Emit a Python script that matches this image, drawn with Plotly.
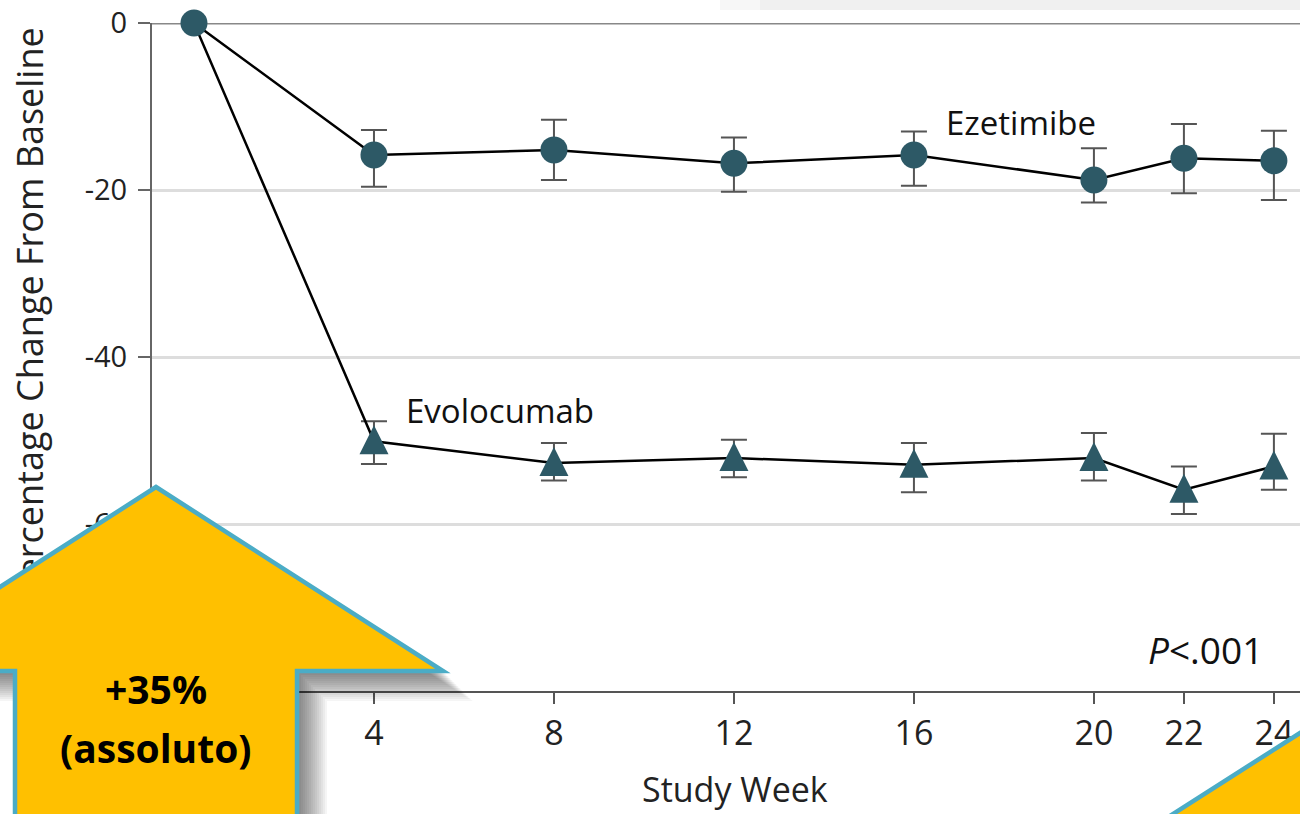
import plotly.graph_objects as go

# ---------------- data ----------------
weeks = [0, 4, 8, 12, 16, 20, 22, 24]
evo_mean = [0, -50.1, -52.7, -52.1, -52.9, -52.1, -55.9, -53.1]
evo_upper = [0, -47.7, -50.3, -49.9, -50.3, -49.1, -53.1, -49.2]
evo_lower = [0, -52.8, -54.8, -54.4, -56.2, -54.8, -58.8, -55.9]
eze_mean = [0, -15.8, -15.2, -16.8, -15.8, -18.8, -16.2, -16.5]
eze_upper = [0, -12.8, -11.6, -13.7, -13.0, -15.0, -12.1, -12.9]
eze_lower = [0, -19.6, -18.8, -20.2, -19.5, -21.5, -20.4, -21.2]
x_ticks = [0, 4, 8, 12, 16, 20, 22, 24]
x_ticktext = ["", "4", "8", "12", "16", "20", "22", "24"]  # week-0 label hidden under arrow
y_ticks = [0, -20, -40, -60]
y_ticktext = ["0", "-20", "-40", "-60"]

# ---------------- geometry (pixels) ----------------
W, H = 1300, 814
PL, PR, PT, PB = 152, 1300, 23, 691  # plot area in pixels
Y_RANGE = [-80, 0]
TRI_LIFT_PX = 16  # triangle glyph apex sits above the data point


def px(x):
    return (x - PL) / (PR - PL)


def py(y):
    return (PB - y) / (PB - PT)


def path(points):
    return "M " + " L ".join(f"{px(a):.5f},{py(b):.5f}" for a, b in points) + " Z"


units_per_px = (Y_RANGE[1] - Y_RANGE[0]) / (PB - PT)
lift = TRI_LIFT_PX * units_per_px
Y2_RANGE = [Y_RANGE[0] - lift, Y_RANGE[1] - lift]

FONT = "Open Sans, Noto Sans, sans-serif"
MARK = "#2d5966"

fig = go.Figure()

# Evolocumab line + error bars
fig.add_trace(go.Scatter(
    x=weeks, y=evo_mean, mode="lines", name="Evolocumab",
    line=dict(color="black", width=2.5),
    error_y=dict(type="data", symmetric=False,
                 array=[u - m for u, m in zip(evo_upper, evo_mean)],
                 arrayminus=[m - l for m, l in zip(evo_mean, evo_lower)],
                 color="#555", thickness=2, width=13),
    cliponaxis=False, showlegend=False, yaxis="y",
))
# Evolocumab triangle markers (overlay axis shifted so the glyph is centred like the original)
fig.add_trace(go.Scatter(
    x=weeks, y=evo_mean, mode="markers", name="Evolocumab",
    marker=dict(symbol="arrow-up", size=29, color=MARK, line=dict(width=0)),
    cliponaxis=False, showlegend=False, yaxis="y2",
))
# Ezetimibe
fig.add_trace(go.Scatter(
    x=weeks, y=eze_mean, mode="lines+markers", name="Ezetimibe",
    line=dict(color="black", width=2.5),
    marker=dict(symbol="circle", size=27, color=MARK),
    error_y=dict(type="data", symmetric=False,
                 array=[u - m for u, m in zip(eze_upper, eze_mean)],
                 arrayminus=[m - l for m, l in zip(eze_mean, eze_lower)],
                 color="#555", thickness=2, width=13),
    cliponaxis=False, showlegend=False, yaxis="y3",
))

shapes = []
# top zero line
shapes.append(dict(type="line", xref="paper", yref="y", x0=0, x1=1, y0=0, y1=0,
                   line=dict(color="#888", width=3), layer="below"))
# faint band at top right
shapes.append(dict(type="rect", xref="paper", yref="paper", x0=px(760), x1=px(1300),
                   y0=py(10), y1=py(0), fillcolor="rgba(0,0,0,0.06)", line=dict(width=0),
                   layer="above"))
shapes.append(dict(type="rect", xref="paper", yref="paper", x0=px(720), x1=px(760),
                   y0=py(10), y1=py(0), fillcolor="rgba(0,0,0,0.03)", line=dict(width=0),
                   layer="above"))

arrow_pts = [(156, 487), (443, 671), (297, 671), (297, 840), (15, 840), (15, 671), (-131, 671)]
# soft shadow
for d in range(2, 31, 2):
    shp = [(a + d, b + d) for a, b in arrow_pts]
    shapes.append(dict(type="path", xref="paper", yref="paper", path=path(shp),
                       fillcolor="rgba(0,0,0,0.04)", line=dict(width=0), layer="above"))
shapes.append(dict(type="path", xref="paper", yref="paper", path=path(arrow_pts),
                   fillcolor="#FFC000", line=dict(color="#4BACC6", width=4.5), layer="above"))
# bottom-right arrow fragment
br_pts = [(1150, 828.7), (1320, 720.2), (1320, 840), (1150, 840)]
shapes.append(dict(type="path", xref="paper", yref="paper", path=path(br_pts),
                   fillcolor="#FFC000", line=dict(color="#4BACC6", width=4.5), layer="above"))

annotations = [
    dict(text="Percentage Change From Baseline", xref="paper", yref="paper",
         x=px(29), y=py(314), textangle=-90, showarrow=False,
         font=dict(family=FONT, size=36, color="#222"), xanchor="center", yanchor="middle"),
    dict(text="Ezetimibe", xref="paper", yref="paper", x=px(1021), y=py(123),
         showarrow=False, font=dict(family=FONT, size=33, color="#111"),
         xanchor="center", yanchor="middle"),
    dict(text="Evolocumab", xref="paper", yref="paper", x=px(500), y=py(410),
         showarrow=False, font=dict(family=FONT, size=33, color="#111"),
         xanchor="center", yanchor="middle"),
    dict(text="<i>P</i>&lt;.001", xref="paper", yref="paper", x=px(1205), y=py(649),
         showarrow=False, font=dict(family=FONT, size=37, color="#111"),
         xanchor="center", yanchor="middle"),
    dict(text="Study Week", xref="paper", yref="paper", x=px(735), y=py(789),
         showarrow=False, font=dict(family=FONT, size=34, color="#222"),
         xanchor="center", yanchor="middle"),
    dict(text="<b>+35%</b>", xref="paper", yref="paper", x=px(156), y=py(688),
         showarrow=False, font=dict(family=FONT, size=39, color="#000"),
         xanchor="center", yanchor="middle"),
    dict(text="<b>(assoluto)</b>", xref="paper", yref="paper", x=px(156), y=py(747),
         showarrow=False, font=dict(family=FONT, size=39, color="#000"),
         xanchor="center", yanchor="middle"),
]

fig.update_layout(
    width=W, height=H,
    margin=dict(l=PL, r=W - PR, t=PT, b=H - PB, pad=0),
    paper_bgcolor="white", plot_bgcolor="white",
    shapes=shapes, annotations=annotations,
    xaxis=dict(range=[-0.933, 24.58], tickvals=x_ticks, ticktext=x_ticktext,
               ticks="outside", ticklen=11,
               tickwidth=2, tickcolor="#555", showline=True, linecolor="#555", linewidth=2,
               showgrid=False, zeroline=False, ticklabelstandoff=0,
               tickfont=dict(family=FONT, size=34, color="#222")),
    yaxis=dict(range=Y_RANGE, tickvals=y_ticks, ticktext=y_ticktext, ticks="outside",
               ticklen=12, tickwidth=2, tickcolor="#666", showline=True, linecolor="#666",
               linewidth=2, showgrid=True, gridcolor="#ddd", gridwidth=2.5, zeroline=False,
               ticklabelstandoff=5,
               tickfont=dict(family=FONT, size=29, color="#222")),
    yaxis2=dict(range=Y2_RANGE, overlaying="y", visible=False, showgrid=False, zeroline=False),
    yaxis3=dict(range=Y_RANGE, overlaying="y", visible=False, showgrid=False, zeroline=False),
)

post = """
try {
  document.documentElement.style.margin = '0';
  document.body.style.margin = '0';
  document.body.style.overflow = 'hidden';
  var gd = document.getElementById('{plot_id}');
  var a = gd.querySelector('.infolayer .annotation[data-index="0"]');
  var above = gd.querySelector('.layer-above');
  if (a && above) { above.parentNode.insertBefore(a, above); }
} catch (e) {}
"""

fig.write_html("out.html", post_script=post, config={"displayModeBar": False})
